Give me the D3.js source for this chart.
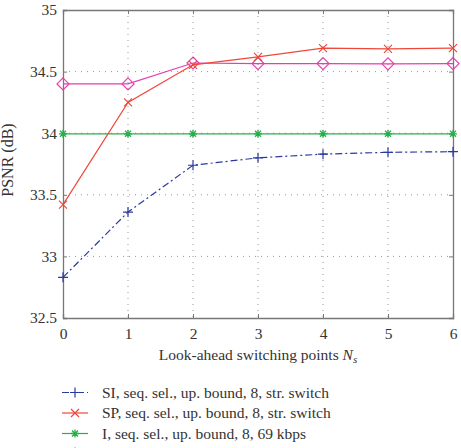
<!DOCTYPE html>
<html><head><meta charset="utf-8">
<script src="https://cdn.jsdelivr.net/npm/d3@7"></script>
<style>
body{margin:0;background:#fff;}
svg{display:block;}
text{font-family:"Liberation Serif","DejaVu Serif",serif;fill:#333;}
</style></head>
<body>
<svg id="c" width="461" height="448"></svg>
<script>
const xValues = [0, 1, 2, 3, 4, 5, 6];
const siValues = [32.83, 33.36, 33.74, 33.80, 33.83, 33.845, 33.85];
const spValues = [33.42, 34.25, 34.555, 34.62, 34.69, 34.685, 34.69];
const iValues = [33.995, 33.995, 33.995, 33.995, 33.995, 33.995, 33.995];
const i2Values = [34.40, 34.40, 34.57, 34.565, 34.565, 34.563, 34.565];
const xTicks = [0, 1, 2, 3, 4, 5, 6];
const yTicks = [32.5, 33, 33.5, 34, 34.5, 35];
const seriesNames = [
  "SI, seq. sel., up. bound, 8, str. switch",
  "SP, seq. sel., up. bound, 8, str. switch",
  "I, seq. sel., up. bound, 8, 69 kbps",
  "I, seq. sel., up. bound, 8, 74 kbps"
];
const xLabel = "Look-ahead switching points ";
const yLabel = "PSNR (dB)";

const FS = 15.5;
const svg = d3.select("#c");
const L = 63, R = 453, T = 10, B = 318;
const x = d3.scaleLinear().domain([0, 6]).range([L, R]);
const y = d3.scaleLinear().domain([32.5, 35]).range([B, T]);

const series = [
  {vals: siValues, color: "#2b3a9e", dash: "7,3,2,3", marker: "plus", name: seriesNames[0]},
  {vals: spValues, color: "#f0473a", dash: null, marker: "x", name: seriesNames[1]},
  {vals: iValues, color: "#27b04a", dash: null, marker: "star", name: seriesNames[2]},
  {vals: i2Values, color: "#e43fae", dash: null, marker: "diamond", name: seriesNames[3]}
];

// grid
const g = svg.append("g");
g.selectAll(".vg").data(xTicks.slice(1, -1)).enter().append("line")
  .attr("x1", d => x(d)).attr("x2", d => x(d)).attr("y1", T).attr("y2", B)
  .attr("stroke", "#999").attr("stroke-width", 1).attr("stroke-dasharray", "1,5");
g.selectAll(".hg").data(yTicks.slice(1, -1)).enter().append("line")
  .attr("x1", L).attr("x2", R).attr("y1", d => y(d)).attr("y2", d => y(d))
  .attr("stroke", "#999").attr("stroke-width", 1).attr("stroke-dasharray", "1,5");

// axes
const xAxis = d3.axisBottom(x).tickValues(xTicks).tickSize(-4).tickPadding(10).tickFormat(d3.format("d"));
const yAxis = d3.axisLeft(y).tickValues(yTicks).tickSize(-4).tickPadding(6).tickFormat(d => String(d));
const xa = svg.append("g").attr("transform", `translate(0,${B})`).call(xAxis);
const ya = svg.append("g").attr("transform", `translate(${L},0)`).call(yAxis);
const xt = svg.append("g").attr("transform", `translate(0,${T})`).call(d3.axisTop(x).tickValues(xTicks).tickSize(-4).tickFormat(""));
const yr = svg.append("g").attr("transform", `translate(${R},0)`).call(d3.axisRight(y).tickValues(yTicks).tickSize(-4).tickFormat(""));
[xa, ya, xt, yr].forEach(a => {
  a.select(".domain").attr("stroke", "#777").attr("stroke-width", 1.3);
  a.selectAll(".tick line").attr("stroke", "#777");
  a.selectAll("text").attr("font-size", FS).attr("fill", "#333")
    .style("font-family", "'Liberation Serif', serif");
});

// lines
const line = d3.line().x((d, i) => x(xValues[i])).y(d => y(d));
function drawMarker(sel, type, color, cx, cy) {
  if (type === "plus") {
    sel.append("path").attr("d", `M${cx-5},${cy}H${cx+5}M${cx},${cy-5}V${cy+5}`)
      .attr("stroke", color).attr("stroke-width", 1.2).attr("fill", "none");
  } else if (type === "x") {
    sel.append("path").attr("d", `M${cx-4},${cy-4}L${cx+4},${cy+4}M${cx-4},${cy+4}L${cx+4},${cy-4}`)
      .attr("stroke", color).attr("stroke-width", 1.2).attr("fill", "none");
  } else if (type === "star") {
    sel.append("path").attr("d", `M${cx-4},${cy}H${cx+4}M${cx},${cy-4}V${cy+4}M${cx-3},${cy-3}L${cx+3},${cy+3}M${cx-3},${cy+3}L${cx+3},${cy-3}`)
      .attr("stroke", color).attr("stroke-width", 1.3).attr("fill", "none");
  } else if (type === "diamond") {
    sel.append("path").attr("d", `M${cx},${cy-6}L${cx+6},${cy}L${cx},${cy+6}L${cx-6},${cy}Z`)
      .attr("stroke", color).attr("stroke-width", 1.2).attr("fill", "none");
  }
}
const plotOrder = [3, 2, 0, 1];
plotOrder.forEach(k => {
  const s = series[k];
  const gg = svg.append("g");
  gg.append("path").datum(s.vals).attr("d", line).attr("fill", "none")
    .attr("stroke", s.color).attr("stroke-width", 1.2)
    .attr("stroke-dasharray", s.dash);
  s.vals.forEach((v, i) => drawMarker(gg, s.marker, s.color, x(xValues[i]), y(v)));
});

// axis labels
const xl = svg.append("text").attr("x", 258).attr("y", 360).attr("text-anchor", "middle").attr("font-size", FS);
xl.append("tspan").text(xLabel);
xl.append("tspan").attr("font-style", "italic").text("N");
xl.append("tspan").attr("font-style", "italic").attr("font-size", 11).attr("dy", 3).text("s");
svg.append("text").attr("transform", "translate(13,160) rotate(-90)").attr("text-anchor", "middle")
  .attr("font-size", 16).text(yLabel);

// legend
const leg = svg.append("g");
series.forEach((s, i) => {
  const cy = 392.5 + i * 20.5;
  leg.append("line").attr("x1", 62).attr("x2", 88).attr("y1", cy).attr("y2", cy)
    .attr("stroke", s.color).attr("stroke-width", 1.2).attr("stroke-dasharray", s.dash);
  drawMarker(leg, s.marker, s.color, 75, cy);
  leg.append("text").attr("x", 102).attr("y", cy + 5).attr("font-size", FS).text(s.name);
});
</script>
</body></html>
